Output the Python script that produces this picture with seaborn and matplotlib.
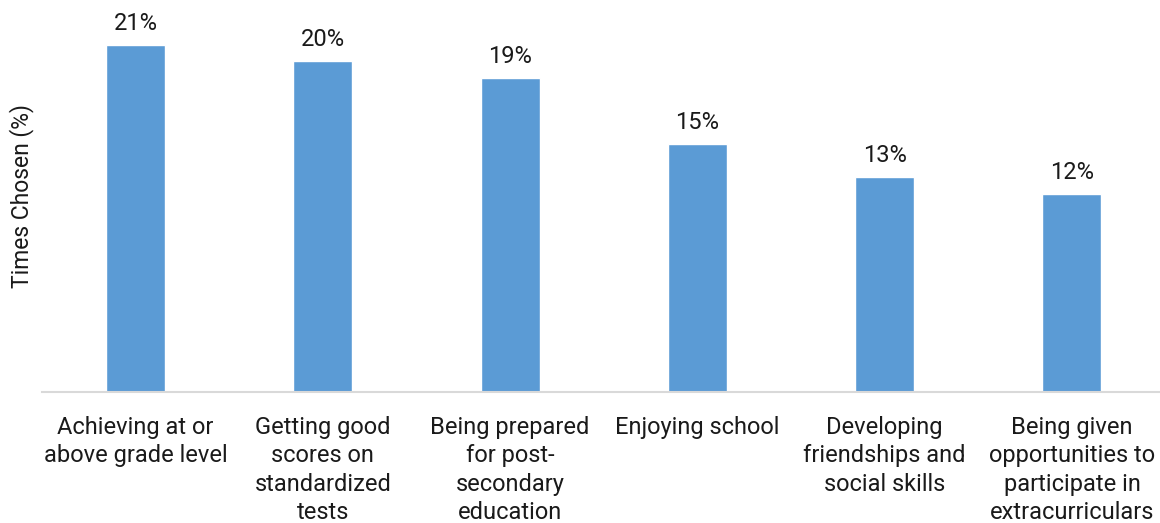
import matplotlib
matplotlib.use("Agg")
import matplotlib.pyplot as plt
import seaborn as sns
import pandas as pd

categories = [
    "Achieving at or\nabove grade level",
    "Getting good\nscores on\nstandardized\ntests",
    "Being prepared\nfor post-\nsecondary\neducation",
    "Enjoying school",
    "Developing\nfriendships and\nsocial skills",
    "Being given\nopportunities to\nparticipate in\nextracurriculars",
]
values = [21, 20, 19, 15, 13, 12]
labels = ["21%", "20%", "19%", "15%", "13%", "12%"]

df = pd.DataFrame({"category": categories, "pct": values})

sns.set_style("white")
plt.rcParams["font.family"] = ["Roboto", "DejaVu Sans"]

fig = plt.figure(figsize=(11.6, 5.23), dpi=100)
ax = fig.add_axes([42 / 1160, 131 / 523, 1118 / 1160, 392 / 523])

sns.barplot(data=df, x="category", y="pct", color="#5B9BD5", width=0.315,
            saturation=1, ax=ax)

for i, (v, lab) in enumerate(zip(values, labels)):
    ax.text(i, v + 0.6, lab, ha="center", va="bottom", fontsize=17, color="#1a1a1a")

ax.set_xlim(-0.5, 5.47)
ax.set_ylim(0, 23.7)
ax.set_yticks([])
ax.set_xlabel("")
ax.set_ylabel("Times Chosen (%)", fontsize=16.5, color="#1a1a1a", labelpad=6)
ax.tick_params(axis="x", length=0, labelsize=17, pad=17, colors="#1a1a1a")
for lbl in ax.get_xticklabels():
    lbl.set_linespacing(1.31)
    lbl.set_verticalalignment("top")

for s in ["top", "right", "left"]:
    ax.spines[s].set_visible(False)
ax.spines["bottom"].set_color("#D9D9D9")
ax.spines["bottom"].set_linewidth(1.5)

fig.savefig("out.png", dpi=100)
